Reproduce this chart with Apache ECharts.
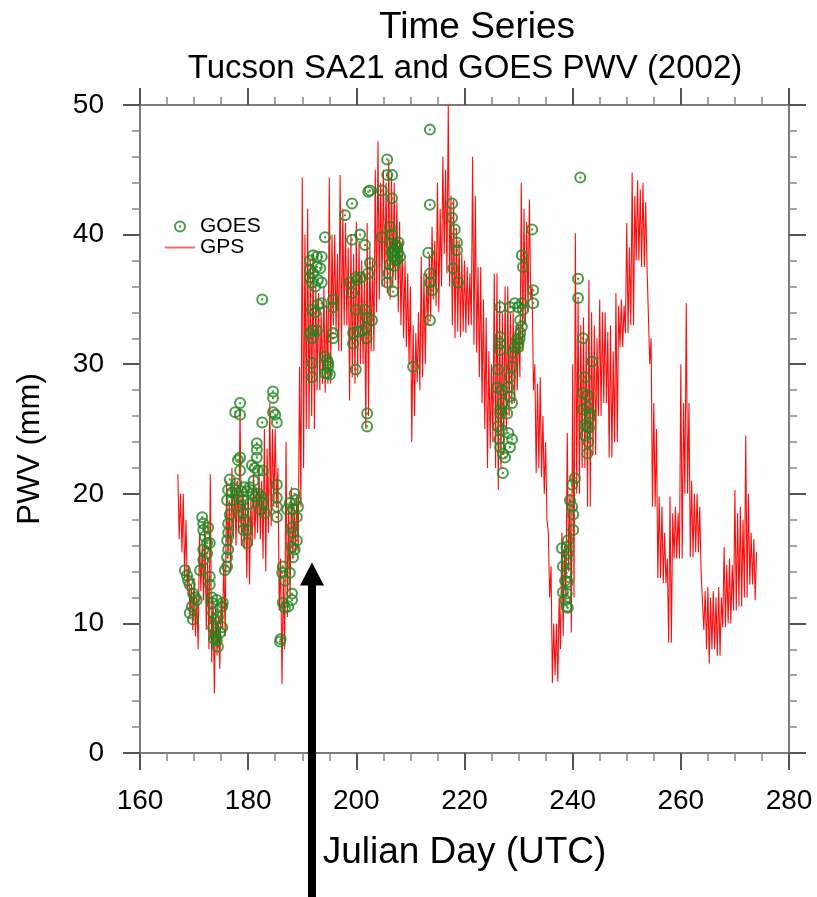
<!DOCTYPE html>
<html>
<head>
<meta charset="utf-8">
<script src="https://cdn.jsdelivr.net/npm/echarts@6/dist/echarts.min.js"></script>
<style>
  html, body { margin: 0; padding: 0; background: #fff; }
  #chart { width: 817px; height: 897px; }
</style>
</head>
<body>
<div id="chart"></div>
<script>
// ---------------- data ----------------
const titleMain = 'Time Series';
const titleSub = 'Tucson SA21 and GOES PWV (2002)';
const xAxisTitle = 'Julian Day (UTC)';
const yAxisTitle = 'PWV (mm)';

const xTicks = [160, 180, 200, 220, 240, 260, 280];
const yTicks = [0, 10, 20, 30, 40, 50];

// GPS PWV (mm), every quarter day starting at day 167.0 (one group = 1 day)
const gpsStartDay = 167;
const gpsStepDay = 0.25;
const gpsValues = [
  21.5,16.5,20.0,15.5, 20.0,13.5,18.0,12.5, 14.5,10.5,13.0,9.5, 13.5,9.0,12.0,8.0, 17.0,12.5,16.0,11.8,
  18.0,9.5,15.0,8.0, 21.5,7.0,12.0,4.6, 11.5,7.5,10.5,6.5, 12.0,9.5,15.0,9.0, 21.0,15.0,19.5,14.0,
  22.0,16.5,21.0,16.0, 21.0,17.0,26.5,16.0, 20.5,15.7,19.5,13.5, 20.8,13.0,19.5,16.0, 21.5,16.5,20.5,17.0,
  22.0,16.5,21.0,15.0, 25.0,14.0,23.5,17.0, 27.0,17.5,25.0,19.0, 25.0,19.0,22.0,11.0, 15.0,5.3,13.5,8.0,
  24.0,10.5,19.0,12.0, 20.5,15.0,19.0,15.5, 20.0,15.5,29.8,19.0, 44.4,22.0,40.0,25.0, 42.0,25.0,38.0,26.0,
  38.5,25.0,36.0,28.0, 35.5,28.0,34.0,28.5, 36.0,27.8,34.5,28.5, 44.4,28.5,40.0,33.0, 40.0,32.4,38.5,31.0,
  44.6,31.0,42.0,33.0, 40.9,33.0,39.0,27.2, 40.0,29.0,38.5,28.5, 41.0,29.0,39.5,30.0, 38.0,30.0,37.0,25.0,
  40.9,26.0,39.0,31.0, 38.0,31.0,45.0,34.0, 47.2,35.0,44.0,36.0, 45.0,36.0,44.0,35.5, 45.8,35.0,44.5,36.0,
  44.0,36.5,42.5,34.0, 41.0,33.0,39.5,32.0, 38.0,31.3,37.0,30.0, 36.0,24.0,33.0,26.0, 32.4,28.6,34.0,28.0,
  38.3,29.0,37.0,30.0, 37.0,33.0,38.5,33.5, 40.6,35.0,39.5,34.5, 44.0,34.0,42.0,36.0, 46.0,38.5,45.0,37.0,
  50.0,36.0,43.0,33.0, 42.7,32.0,40.5,32.5, 39.6,32.1,38.5,32.5, 38.0,32.4,37.5,33.0, 37.0,33.0,46.0,31.5,
  43.0,30.9,37.5,29.0, 37.5,27.0,35.0,25.0, 33.6,22.0,31.0,23.5, 30.0,24.0,37.0,22.0, 37.0,20.3,35.0,22.0,
  34.0,23.0,36.0,25.0, 36.0,26.0,34.0,27.0, 34.0,27.0,33.0,28.0, 33.0,29.0,44.0,31.0, 42.0,33.0,41.0,34.0,
  42.7,35.0,36.0,28.0, 30.0,21.6,28.5,22.0, 29.0,21.3,26.0,20.0, 24.0,18.0,17.0,12.0, 14.4,5.4,10.0,6.0,
  10.0,5.5,12.0,8.0, 17.0,9.0,16.0,12.0, 24.7,14.0,20.0,9.3, 30.0,12.0,40.1,20.0, 35.0,20.0,33.0,22.0,
  33.6,22.0,32.0,19.0, 36.5,19.0,34.0,23.0, 33.0,23.0,32.0,26.0, 35.0,26.0,34.0,27.0, 34.0,27.0,32.5,22.8,
  33.0,22.8,31.0,24.0, 35.5,24.0,34.5,31.3, 35.0,31.3,34.5,32.4, 40.9,32.4,39.0,33.0, 44.8,33.0,43.0,38.0,
  44.2,38.0,43.5,37.5, 44.0,37.5,42.5,37.5, 37.5,30.0,32.0,19.0, 27.0,19.0,25.0,13.5, 19.8,13.5,19.0,13.1,
  17.0,13.1,15.0,8.5, 19.8,8.5,18.5,15.0, 19.0,15.0,18.5,15.0, 30.0,15.0,27.0,20.0, 34.7,20.0,27.0,15.1,
  21.0,15.1,20.0,15.5, 20.0,15.5,19.0,13.9, 13.9,9.5,12.5,8.0, 12.8,6.9,12.0,8.0, 12.5,8.0,12.0,7.5,
  12.8,7.5,12.0,9.7, 15.9,9.7,14.5,10.0, 15.0,10.0,14.5,11.0, 20.3,11.0,18.5,11.3, 19.0,11.3,18.0,12.0,
  24.5,12.0,20.0,13.0, 17.0,13.0,16.5,11.8,
  15.5
];

// GOES PWV retrievals: Julian day and value (mm)
const goesDays = [
  168.3,168.7,168.9,169.2,169.8,170.2,170.5,169.6,169.2,169.8,
  171.5,171.7,171.7,172.0,172.4,171.7,172.4,171.7,171.1,172.6,172.9,
  172.9,172.9,173.3,173.3,173.5,173.9,173.5,173.9,174.2,174.4,174.8,175.2,175.2,175.3,174.4,174.2,173.7,174.0,
  176.1,175.7,176.1,176.3,176.1,176.3,176.3,176.6,176.1,176.3,176.6,177.0,
  177.0,177.6,178.2,178.8,179.3,179.8,180.3,180.8,181.4,181.9,182.4,177.8,179.0,180.0,181.0,
  178.5,179.1,179.4,179.8,179.8,179.1,
  178.5,178.5,178.1,178.5,177.6,178.5,
  181.6,181.6,181.6,181.2,181.8,180.7,182.7,
  182.2,182.7,183.1,182.6,182.6,
  184.6,184.6,184.6,185.0,185.3,
  185.3,185.3,185.3,185.3,
  186.4,186.3,186.8,186.4,186.8,185.9,186.0,
  187.7,188.3,189.0,187.2,188.1,188.3,189.0,188.1,188.6,188.3,187.7,188.1,188.1,187.4,188.8,189.2,188.6,
  191.4,192.0,192.7,193.6,191.4,192.0,192.7,193.3,191.4,191.8,192.4,192.9,193.6,191.8,192.4,192.9,193.6,
  192.0,192.7,191.4,191.8,191.8,191.8,194.2,194.6,194.8,194.8,194.6,195.1,194.2,195.7,195.7,195.7,195.7,194.2,
  197.9,199.2,199.2,200.7,201.6,198.8,199.2,199.9,200.1,200.9,202.5,202.2,199.9,201.6,201.9,202.9,
  199.4,200.3,201.2,199.4,201.9,201.8,199.9,202.0,202.0,202.5,202.2,204.7,
  205.7,205.7,206.6,206.6,204.7,206.2,206.6,206.8,207.5,207.7,206.2,205.9,205.7,206.8,208.1,207.2,
  206.9,207.1,207.3,207.6,206.5,207.0,206.4,207.8,
  210.5,213.6,213.6,213.3,213.6,213.6,214.0,213.6,
  217.7,217.7,218.2,218.6,218.6,217.9,218.8,
  226.6,226.6,226.6,226.6,226.2,226.0,226.9,226.6,226.2,226.9,226.6,227.1,227.1,226.6,227.0,226.4,
  228.4,229.3,229.9,230.6,230.8,230.3,230.6,230.3,229.7,229.3,228.9,229.9,228.8,228.4,228.1,228.4,228.8,
  227.9,228.1,228.4,228.8,227.5,230.6,230.8,232.5,232.7,232.7,230.2,230.0,
  240.4,239.9,239.5,239.9,240.1,240.1,239.1,238.9,238.0,239.1,238.9,238.2,238.9,238.6,239.1,238.2,238.9,238.6,238.9,239.1,
  241.4,241.0,241.0,241.9,243.6,242.3,241.9,242.7,241.9,243.2,242.7,242.9,242.7,242.7,243.2,242.2,243.0,242.3
];
const goesValues = [
  14.1,13.7,13.3,13.0,12.3,12.0,11.8,11.3,10.8,10.3,
  18.2,17.7,17.2,16.7,16.2,15.7,15.4,14.9,14.1,17.4,16.2,
  13.6,13.0,12.0,11.6,10.8,10.3,9.7,9.3,8.7,8.2,9.3,9.7,11.3,11.6,10.5,11.8,8.8,9.0,
  14.4,14.1,15.1,15.7,16.4,17.0,17.7,18.4,19.5,20.3,21.1,20.1,
  19.5,20.3,19.8,20.2,20.5,20.2,20.5,20.0,19.8,20.0,19.8,20.8,19.5,19.2,21.0,
  19.0,18.5,18.0,17.2,16.2,17.2,
  22.8,21.8,22.6,27.0,26.3,26.1,
  23.9,23.4,22.8,22.0,21.8,22.2,21.8,
  18.8,19.3,18.5,35.0,25.5,
  27.9,27.4,26.3,26.1,25.5,
  20.7,19.7,19.0,18.2,
  14.4,13.9,13.3,11.6,11.2,8.6,8.8,
  19.3,18.8,18.2,18.8,17.4,17.0,16.4,15.9,15.7,15.1,13.9,12.3,11.8,11.3,19.5,19.0,20.0,
  38.0,38.4,38.3,38.3,37.3,37.0,37.5,37.4,36.7,36.3,36.0,36.5,36.3,34.2,34.0,34.6,34.7,
  32.6,32.6,32.4,32.0,30.1,29.0,30.6,30.3,30.1,29.8,29.3,29.2,29.3,35.0,34.4,32.4,32.0,39.8,
  41.5,42.4,39.6,40.0,39.2,36.3,35.5,36.7,36.5,36.7,37.8,37.0,34.2,34.2,33.6,33.4,
  32.4,32.5,32.6,31.6,32.0,32.8,29.6,26.2,25.2,43.4,43.3,43.4,
  45.8,44.6,44.6,42.8,39.8,40.6,40.0,38.8,39.0,38.6,37.7,37.0,36.3,35.6,38.3,38.0,
  38.3,38.8,39.2,38.1,38.6,37.6,39.3,39.4,
  29.8,48.1,42.3,38.6,37.0,36.3,35.7,33.4,
  42.4,41.3,40.4,39.4,38.8,37.4,36.3,
  34.4,32.1,31.6,31.1,29.6,28.2,28.0,26.2,25.2,24.9,23.6,23.1,21.6,26.5,27.0,24.2,
  34.4,34.7,34.4,34.7,34.2,33.4,32.9,32.4,31.9,31.3,30.9,31.3,29.8,29.0,28.2,27.5,27.0,
  26.2,24.7,23.6,24.2,22.8,38.4,37.5,40.4,35.7,34.7,32.0,31.6,
  21.2,20.7,19.5,19.0,18.4,17.2,16.4,15.9,15.8,15.4,14.9,14.4,13.9,13.3,13.2,12.4,12.3,11.8,11.3,11.2,
  44.4,36.6,35.1,32.0,30.2,29.0,27.8,27.6,26.5,25.9,25.2,24.0,23.1,26.7,26.2,25.3,25.1,24.5
];

// annotation arrow: tip location in data coordinates
const arrowDay = 191.8;
const arrowTipPwv = 14.7;

// ---------------- build ----------------
const gpsData = gpsValues.map((v, i) => [gpsStartDay + i * gpsStepDay, v]);
const goesData = goesDays.map((d, i) => [d, goesValues[i]]);

const FONT = '"Liberation Sans", Arial, Helvetica, sans-serif';
const ringDot = 'path://M10,0A10,10,0,1,1,10,20A10,10,0,1,1,10,0Z' +
  'M10,3.4A6.6,6.6,0,1,0,10,16.6A6.6,6.6,0,1,0,10,3.4Z' +
  'M10,8.0A2.0,2.0,0,1,1,10,12.0A2.0,2.0,0,1,1,10,8.0Z';

const axisLineStyle = { color: '#7a7a7a', width: 2 };
function xAxisCfg(pos, labels) {
  return {
    type: 'value', position: pos, min: xTicks[0], max: xTicks[xTicks.length - 1],
    interval: xTicks[1] - xTicks[0],
    axisLine: { show: true, onZero: false, lineStyle: axisLineStyle },
    axisTick: { show: true, length: 17, lineStyle: { color: '#555', width: 2 } },
    minorTick: { show: true, splitNumber: 4, length: 8, lineStyle: { color: '#888', width: 1.5 } },
    splitLine: { show: false },
    axisLabel: { show: labels, fontSize: 28, color: '#000', fontFamily: FONT, margin: 34 },
    name: labels ? xAxisTitle : '', nameLocation: 'middle', nameGap: 81,
    nameTextStyle: { fontSize: 37, color: '#000', fontFamily: FONT }
  };
}
function yAxisCfg(pos, labels) {
  return {
    type: 'value', position: pos, min: yTicks[0], max: yTicks[yTicks.length - 1],
    interval: yTicks[1] - yTicks[0],
    axisLine: { show: true, onZero: false, lineStyle: axisLineStyle },
    axisTick: { show: true, length: 17, lineStyle: { color: '#555', width: 2 } },
    minorTick: { show: true, splitNumber: 5, length: 8, lineStyle: { color: '#888', width: 1.5 } },
    splitLine: { show: false },
    axisLabel: { show: labels, fontSize: 28, color: '#000', fontFamily: FONT, margin: 36 }
  };
}

const chart = echarts.init(document.getElementById('chart'), null, { renderer: 'canvas' });
const option = {
  animation: false,
  backgroundColor: '#fff',
  title: [
    { text: titleMain, left: 477, top: 9, textAlign: 'center', padding: 0,
      textStyle: { fontSize: 37, fontWeight: 'normal', color: '#000', fontFamily: FONT } },
    { text: titleSub, left: 465, top: 52, textAlign: 'center', padding: 0,
      textStyle: { fontSize: 33, fontWeight: 'normal', color: '#000', fontFamily: FONT } }
  ],
  grid: { left: 140, right: 28, top: 105, bottom: 144, containLabel: false },
  legend: {
    orient: 'vertical', left: 160, top: 211, itemGap: 0, itemWidth: 30, itemHeight: 12,
    textStyle: { fontSize: 21, lineHeight: 19, color: '#000', fontFamily: FONT },
    data: [
      { name: 'GOES' },
      { name: 'GPS', icon: 'path://M0,0H15V1H0Z', itemStyle: { color: '#ff6b6b' } }
    ]
  },
  xAxis: [xAxisCfg('bottom', true), xAxisCfg('top', false)],
  yAxis: [yAxisCfg('left', true), yAxisCfg('right', false)],
  series: [
    {
      name: 'GPS', type: 'line', xAxisIndex: 0, yAxisIndex: 0, data: gpsData,
      showSymbol: false, symbol: 'none', z: 2,
      lineStyle: { color: '#ff0000', width: 1.1, opacity: 0.95 },
      itemStyle: { color: '#ff0000' }
    },
    {
      name: 'GOES', type: 'scatter', xAxisIndex: 0, yAxisIndex: 0, data: goesData,
      symbol: ringDot, symbolSize: 12, z: 3,
      itemStyle: { color: '#1f861f', opacity: 0.8 }
    }
  ]
};
chart.setOption(option);

const H = chart.getHeight();
const tip = chart.convertToPixel({ xAxisIndex: 0, yAxisIndex: 0 }, [arrowDay, arrowTipPwv]);
chart.setOption({
  graphic: [
    { type: 'text', x: 30, y: 449, rotation: Math.PI / 2,
      style: { text: yAxisTitle, fill: '#000', fontSize: 31, fontFamily: FONT, align: 'center', verticalAlign: 'middle' } },
    { type: 'polygon', z: 100,
      shape: { points: [[tip[0], tip[1]], [tip[0] - 12, tip[1] + 23], [tip[0] + 12, tip[1] + 23]] },
      style: { fill: '#000' } },
    { type: 'rect', z: 100,
      shape: { x: tip[0] - 4, y: tip[1] + 22, width: 8, height: H - tip[1] - 22 },
      style: { fill: '#000' } }
  ]
});
</script>
</body>
</html>
